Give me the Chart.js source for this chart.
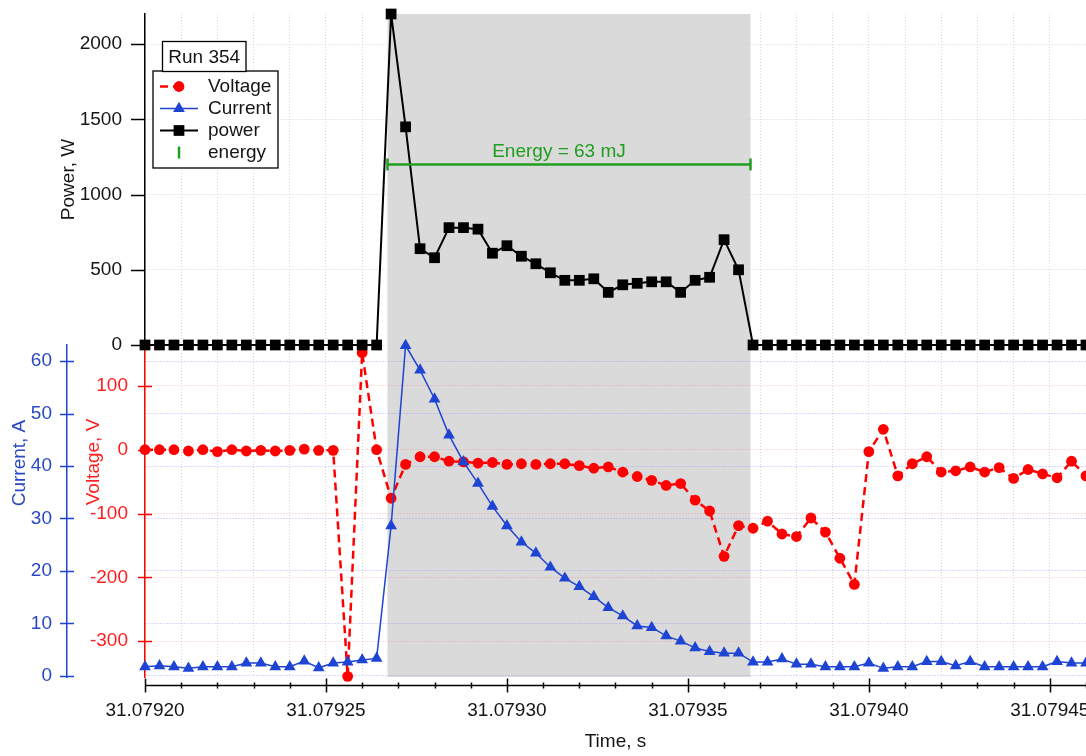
<!DOCTYPE html>
<html>
<head>
<meta charset="utf-8">
<title>Run 354 – voltage, current and power</title>
<script src="https://cdn.jsdelivr.net/npm/chart.js@4/dist/chart.umd.min.js"></script>
<style>
  html, body { margin: 0; padding: 0; background: #ffffff; overflow: hidden; }
  #wrap { position: relative; width: 1086px; height: 756px; }
</style>
</head>
<body>
<div id="wrap"><canvas id="c"></canvas></div>
<script>
// ---- Data ---------------------------------------------------------------
// Record start (s) and sample offsets from it (µs), 250 kS/s
const T0 = 31.0792;
const sampleUs = [
  0, 4, 8, 12, 16, 20, 24, 28, 32, 36, 40, 44, 48, 52, 56, 60, 64, 68, 72, 76,
  80, 84, 88, 92, 96, 100, 104, 108, 112, 116, 120, 124, 128, 132, 136, 140,
  144, 148, 152, 156, 160, 164, 168, 172, 176, 180, 184, 188, 192, 196, 200,
  204, 208, 212, 216, 220, 224, 228, 232, 236, 240, 244, 248, 252, 256, 260
];

// Voltage, V
const voltage = [
  0, 0, 0, -2, 0, -3, 0, -2, -1, -2, -1, 1, -1, -1, -355, 152, 0, -76, -23, -11,
  -11, -18, -19, -21, -20, -23, -22, -23, -22, -22, -25, -29, -27, -35, -42, -48,
  -56, -53, -79, -96, -167, -119, -123, -112, -132, -136, -107, -129, -170, -211, -3,
  32, -41, -22, -11, -35, -33, -27, -35, -28, -45, -31, -38, -44, -18, -41
];

// Current, A
const current = [
  1.7, 1.9, 1.7, 1.4, 1.7, 1.7, 1.7, 2.4, 2.4, 1.7, 1.7, 2.8, 1.5, 2.4, 2.6, 3.0, 3.3, 28.6, 63.0, 58.3,
  52.8, 45.9, 40.8, 36.7, 32.3, 28.6, 25.5, 23.4, 20.7, 18.6, 17.0, 15.1, 13.0, 11.4, 9.5, 9.2,
  7.6, 6.6, 5.3, 4.6, 4.3, 4.3, 2.6, 2.6, 3.2, 2.2, 2.2, 1.7, 1.7, 1.7, 2.4,
  1.4, 1.7, 1.7, 2.7, 2.7, 1.9, 2.7, 1.7, 1.7, 1.7, 1.7, 1.7, 2.7, 2.4, 2.4
];

// Power, W
const power = [
  0, 0, 0, 0, 0, 0, 0, 0, 0, 0, 0, 0, 0, 0, 0, 0, 0, 2200, 1450, 640,
  580, 780, 780, 770, 610, 660, 590, 540, 480, 430, 430, 440, 350, 400, 410, 420,
  420, 350, 430, 450, 700, 500, 0, 0, 0, 0, 0, 0, 0, 0, 0,
  0, 0, 0, 0, 0, 0, 0, 0, 0, 0, 0, 0, 0, 0, 0
];

// Integration window (µs from T0) and the power level its bar is drawn at (W)
const windowUs = [67.0, 167.3];
const energyBarLevel = 1200;

// Axis ticks and labels
const timeMajorLabels = ['31.07920', '31.07925', '31.07930', '31.07935', '31.07940', '31.07945'];
const timeMinorStep = 1e-5;
const timeMinorPerMajor = 5;
const powerTicks = [0, 500, 1000, 1500, 2000];
const voltageTicks = [-300, -200, -100, 0, 100];
const currentTicks = [0, 10, 20, 30, 40, 50, 60];

const runLabel = 'Run 354';
const legendOrder = ['Voltage', 'Current', 'power', 'energy'];

// ---- Styling --------------------------------------------------------------
const FONT = '"Liberation Sans", Arial, Helvetica, sans-serif';
const RED = '#ff0000', RED_TXT = '#ff1e1e';
const BLUE = '#1e44d4', BLUE_TXT = '#2a48c4';
const GREEN = '#1f9e1f';
const BLACK = '#000000', TXT = '#151515';
const BAND = '#dadada';

Chart.defaults.font.family = FONT;
Chart.defaults.font.size = 19;

// ---- Derived series -------------------------------------------------------
const toTime = us => T0 + us * 1e-6;
const pts = vals => sampleUs.map((u, i) => ({ x: toTime(u), y: vals[i] }));

// Energy delivered: trapezoidal integral of power over the record
let energyJ = 0;
for (let i = 1; i < power.length; i++) {
  energyJ += 0.5 * (power[i] + power[i - 1]) * (sampleUs[i] - sampleUs[i - 1]) * 1e-6;
}
const energyText = 'Energy = ' + Math.round(energyJ * 1000) + ' mJ';

const timeTicks = [];
for (let i = 0; i <= (timeMajorLabels.length - 1) * timeMinorPerMajor + 1; i++) {
  timeTicks.push(T0 + i * timeMinorStep);
}

const setTicks = list => scale => { scale.ticks = list.map(v => ({ value: v })); };
const fixWidth = w => scale => {
  scale.width = w;
  scale.paddingTop = 0; scale.paddingBottom = 0;
  scale.paddingLeft = 0; scale.paddingRight = 0;
};
const plainLabel = v => String(v);

// ---- Drawing helpers ------------------------------------------------------
const helpers = Chart.helpers || {};
function marker(ctx, ds, x, y) {
  const opts = {
    pointStyle: ds.pointStyle,
    rotation: ds.pointRotation || 0,
    radius: ds.pointRadius,
    borderWidth: ds.pointBorderWidth || 0
  };
  ctx.fillStyle = ds.pointBackgroundColor || ds.borderColor;
  ctx.strokeStyle = ds.pointBorderColor || ds.borderColor;
  ctx.lineWidth = opts.borderWidth;
  if (helpers.drawPoint) { helpers.drawPoint(ctx, opts, x, y); return; }
  ctx.beginPath();
  ctx.arc(x, y, opts.radius, 0, Math.PI * 2);
  ctx.fill();
}

function rotatedText(ctx, text, x, y, color) {
  ctx.save();
  ctx.translate(x, y);
  ctx.rotate(-Math.PI / 2);
  ctx.fillStyle = color;
  ctx.font = '19px ' + FONT;
  ctx.textAlign = 'center';
  ctx.textBaseline = 'middle';
  ctx.fillText(text, 0, 0);
  ctx.restore();
}

// Shaded integration window behind everything
const bandPlugin = {
  id: 'band',
  beforeDraw(chart) {
    const { ctx, chartArea, scales } = chart;
    const x1 = scales.x.getPixelForValue(toTime(windowUs[0]));
    const x2 = scales.x.getPixelForValue(toTime(windowUs[1]));
    ctx.save();
    ctx.fillStyle = BAND;
    ctx.fillRect(x1, chartArea.top, x2 - x1, chartArea.bottom - chartArea.top);
    ctx.restore();
  }
};

// Tick marks, free time axis, axis titles, annotation and legend
const decorPlugin = {
  id: 'decor',
  afterDraw(chart) {
    const { ctx, chartArea, scales } = chart;
    const { x, yP, yV, yC } = scales;
    ctx.save();
    ctx.lineWidth = 1.5;

    // power ticks: outside only
    ctx.strokeStyle = BLACK;
    powerTicks.forEach(v => {
      const y = Math.round(yP.getPixelForValue(v)) + 0.5;
      ctx.beginPath(); ctx.moveTo(yP.right - 14, y); ctx.lineTo(yP.right, y); ctx.stroke();
    });
    // voltage ticks: across the axis
    ctx.strokeStyle = RED;
    voltageTicks.forEach(v => {
      const y = Math.round(yV.getPixelForValue(v)) + 0.5;
      ctx.beginPath(); ctx.moveTo(yV.right - 7, y); ctx.lineTo(yV.right + 7, y); ctx.stroke();
    });
    // current ticks: across the axis
    ctx.strokeStyle = BLUE;
    currentTicks.forEach(v => {
      const y = Math.round(yC.getPixelForValue(v)) + 0.5;
      ctx.beginPath(); ctx.moveTo(yC.right - 7, y); ctx.lineTo(yC.right + 7, y); ctx.stroke();
    });

    // time axis, a little below the plot area
    const ay = Math.round(chartArea.bottom + 8) + 0.5;
    ctx.strokeStyle = BLACK;
    ctx.beginPath(); ctx.moveTo(chartArea.left, ay); ctx.lineTo(chartArea.right, ay); ctx.stroke();
    timeTicks.forEach((v, i) => {
      const px = Math.round(x.getPixelForValue(v)) + 0.5;
      const half = i % timeMinorPerMajor === 0 ? 7 : 3;
      ctx.beginPath(); ctx.moveTo(px, ay - half); ctx.lineTo(px, ay + half); ctx.stroke();
    });

    // axis titles
    rotatedText(ctx, 'Power, W', yP.left + 2, (yP.top + yP.bottom) / 2, TXT);
    rotatedText(ctx, 'Voltage, V', yV.left + 27, yV.top + 117, RED_TXT);
    rotatedText(ctx, 'Current, A', yC.left + 19.5, yC.top + 118, BLUE_TXT);

    // energy annotation above its bar
    const ex = (x.getPixelForValue(toTime(windowUs[0])) + x.getPixelForValue(toTime(windowUs[1]))) / 2;
    const ey = yP.getPixelForValue(energyBarLevel);
    ctx.fillStyle = GREEN;
    ctx.font = '19px ' + FONT;
    ctx.textAlign = 'center';
    ctx.textBaseline = 'alphabetic';
    ctx.fillText(energyText, ex - 10, ey - 7);

    // legend
    const lx = chartArea.left + 8, ly = chartArea.top + 57, lw = 125, lh = 97;
    ctx.fillStyle = '#ffffff';
    ctx.strokeStyle = BLACK;
    ctx.lineWidth = 1.3;
    ctx.fillRect(lx, ly, lw, lh);
    ctx.strokeRect(lx, ly, lw, lh);
    legendOrder.forEach((name, i) => {
      const ds = chart.data.datasets.find(d => d.label === name);
      const cy = ly + 15.5 + i * 22;
      const sx = lx + 7, mx = lx + 26;
      ctx.save();
      if (name !== 'energy') {
        ctx.strokeStyle = ds.borderColor;
        ctx.lineWidth = ds.borderWidth;
        ctx.setLineDash(ds.borderDash || []);
        const ex2 = ds.borderDash ? mx + 6 : lx + 45;
        ctx.beginPath(); ctx.moveTo(sx, cy); ctx.lineTo(ex2, cy); ctx.stroke();
        ctx.setLineDash([]);
      }
      marker(ctx, ds, mx, cy);
      ctx.restore();
      ctx.fillStyle = TXT;
      ctx.font = '19px ' + FONT;
      ctx.textAlign = 'left';
      ctx.textBaseline = 'middle';
      ctx.fillText(name, lx + 55, cy);
    });

    // run label box on the legend's top edge
    const tx = chartArea.left + 17.5, ty = chartArea.top + 27.5, tw = 83.5, th = 30;
    ctx.fillStyle = '#ffffff';
    ctx.strokeStyle = BLACK;
    ctx.lineWidth = 1.3;
    ctx.fillRect(tx, ty, tw, th);
    ctx.strokeRect(tx, ty, tw, th);
    ctx.fillStyle = TXT;
    ctx.textAlign = 'center';
    ctx.textBaseline = 'middle';
    ctx.fillText(runLabel, tx + tw / 2, ty + th / 2 + 1);
    ctx.restore();
  }
};

// ---- Chart ----------------------------------------------------------------
new Chart(document.getElementById('c'), {
  type: 'line',
  data: {
    datasets: [
      {
        label: 'energy',
        yAxisID: 'yP',
        data: [
          { x: toTime(windowUs[0]), y: energyBarLevel },
          { x: toTime(windowUs[1]), y: energyBarLevel }
        ],
        borderColor: GREEN,
        borderWidth: 2.5,
        pointStyle: 'line',
        pointRotation: 90,
        pointRadius: 6,
        pointBorderWidth: 2.5,
        pointBorderColor: GREEN,
        clip: false
      },
      {
        label: 'power',
        yAxisID: 'yP',
        data: pts(power),
        borderColor: BLACK,
        borderWidth: 2,
        pointStyle: 'rect',
        pointRadius: 7.6,
        pointBackgroundColor: BLACK,
        pointBorderWidth: 0,
        clip: false
      },
      {
        label: 'Current',
        yAxisID: 'yC',
        data: pts(current),
        borderColor: BLUE,
        borderWidth: 1.5,
        pointStyle: 'triangle',
        pointRadius: 6.8,
        pointBackgroundColor: BLUE,
        pointBorderWidth: 0,
        clip: false
      },
      {
        label: 'Voltage',
        yAxisID: 'yV',
        data: pts(voltage),
        borderColor: RED,
        borderWidth: 2.5,
        borderDash: [8, 5],
        pointStyle: 'circle',
        pointRadius: 5.4,
        pointBackgroundColor: RED,
        pointBorderWidth: 0,
        clip: false
      }
    ]
  },
  options: {
    responsive: true,
    maintainAspectRatio: false,
    animation: false,
    events: [],
    layout: { autoPadding: false, padding: { top: 14, left: 0, right: 0, bottom: 0 } },
    elements: { line: { tension: 0 } },
    plugins: { legend: { display: false }, tooltip: { enabled: false } },
    scales: {
      x: {
        type: 'linear',
        position: 'bottom',
        min: T0,
        max: toTime(sampleUs[sampleUs.length - 1]),
        afterBuildTicks: setTicks(timeTicks),
        afterFit: s => { s.height = 79; s.paddingLeft = 0; s.paddingRight = 0; },
        grid: { color: '#d6d6d6', lineWidth: 1, drawTicks: false },
        border: { display: false, dash: [1, 2] },
        ticks: {
          autoSkip: false, maxRotation: 0, minRotation: 0, padding: 22, color: TXT,
          callback: (v, i) => (i % timeMinorPerMajor === 0 ? timeMajorLabels[i / timeMinorPerMajor] || '' : '')
        },
        title: { display: true, text: 'Time, s', color: TXT, padding: { top: 0, bottom: 3 } }
      },
      yCtop: {
        type: 'linear', position: 'left', stack: 'cur', stackWeight: 331, weight: 4,
        grid: { display: false }, border: { display: false }, ticks: { display: false },
        afterFit: fixWidth(67)
      },
      yC: {
        type: 'linear', position: 'left', stack: 'cur', stackWeight: 332, weight: 3,
        min: -0.25, max: 63.1,
        afterBuildTicks: setTicks(currentTicks),
        afterFit: fixWidth(67),
        grid: { color: 'rgba(120,120,255,0.55)', drawTicks: false },
        border: { display: true, color: BLUE, width: 1.5, dash: [1, 2] },
        ticks: { autoSkip: false, padding: 15, color: BLUE_TXT, callback: plainLabel }
      },
      yP: {
        type: 'linear', position: 'left', stack: 'main', stackWeight: 331, weight: 2,
        min: 0, max: 2200,
        afterBuildTicks: setTicks(powerTicks),
        afterFit: fixWidth(78),
        grid: { color: '#d4d4d4', drawTicks: false },
        border: { display: true, color: BLACK, width: 1.5, dash: [1, 2] },
        ticks: { autoSkip: false, padding: 23, color: TXT, callback: plainLabel }
      },
      yV: {
        type: 'linear', position: 'left', stack: 'main', stackWeight: 332, weight: 1,
        min: -356, max: 164,
        afterBuildTicks: setTicks(voltageTicks),
        afterFit: fixWidth(78),
        grid: { color: 'rgba(255,120,120,0.5)', drawTicks: false },
        border: { display: true, color: RED, width: 1.5, dash: [1, 2] },
        ticks: { autoSkip: false, padding: 17, color: RED_TXT, callback: plainLabel }
      }
    }
  },
  plugins: [bandPlugin, decorPlugin]
});
</script>
</body>
</html>
